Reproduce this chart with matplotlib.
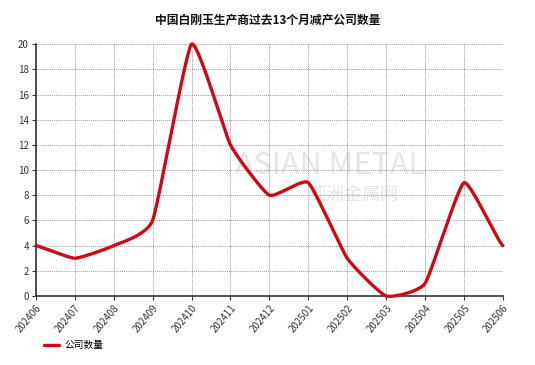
import numpy as np
import matplotlib
matplotlib.use("Agg")
import matplotlib.pyplot as plt

plt.rcParams['font.family'] = ['Noto Sans CJK SC', 'DejaVu Sans']

months = ['202406', '202407', '202408', '202409', '202410', '202411', '202412',
          '202501', '202502', '202503', '202504', '202505', '202506']
counts = [4, 3, 4, 6, 20, 12, 8, 9, 3, 0, 1, 9, 4]


def smooth(xs, ys, tension=0.45, n=30):
    # cardinal spline, only used to draw the line smoothly
    xs = np.asarray(xs, float)
    ys = np.asarray(ys, float)
    px = np.concatenate([[2 * xs[0] - xs[1]], xs, [2 * xs[-1] - xs[-2]]])
    py = np.concatenate([[ys[0]], ys, [ys[-1]]])
    out_x, out_y = [], []
    t = np.linspace(0, 1, n)
    h00 = 2 * t**3 - 3 * t**2 + 1
    h10 = t**3 - 2 * t**2 + t
    h01 = -2 * t**3 + 3 * t**2
    h11 = t**3 - t**2
    for i in range(1, len(px) - 2):
        for p, out in ((px, out_x), (py, out_y)):
            p0, p1, p2, p3 = p[i - 1], p[i], p[i + 1], p[i + 2]
            m1 = tension * (p2 - p0) / 2
            m2 = tension * (p3 - p1) / 2
            out.extend(h00 * p1 + h10 * m1 + h01 * p2 + h11 * m2)
    return np.array(out_x), np.array(out_y)


fig = plt.figure(figsize=(5.35, 3.65), dpi=100)
ax = fig.add_axes([0.067, 0.189, 0.873, 0.69])

x = np.arange(len(months))
sx, sy = smooth(x, counts)
line, = ax.plot(sx, sy, color='#cc0a14', lw=2.4, solid_capstyle='round',
                zorder=3, clip_on=False)

ax.set_xlim(0, len(months) - 1)
ax.set_ylim(0, 20)
ax.set_yticks(range(0, 21, 2))
ax.set_xticks(x)
ax.set_xticklabels(months, rotation=50, ha='right', rotation_mode='anchor')
ax.tick_params(labelsize=7, colors='#333333', length=3, width=0.8, pad=2)
ax.grid(True, color='#999999', ls=(0, (1, 1)), lw=0.7)
for s in ['top', 'right']:
    ax.spines[s].set_visible(False)
for s in ['left', 'bottom']:
    ax.spines[s].set_color('#333333')
    ax.spines[s].set_linewidth(1.2)

# watermark
ax.text(0.63, 0.52, 'ASIAN METAL', transform=ax.transAxes, fontsize=22,
        color='#aaaaaa', alpha=0.3, ha='center', va='center', zorder=1)
ax.text(0.68, 0.40, '亚洲金属网', transform=ax.transAxes, fontsize=13,
        color='#aaaaaa', alpha=0.3, ha='center', va='center', zorder=1)

fig.text(0.5, 0.945, '中国白刚玉生产商过去13个月减产公司数量', ha='center', va='center',
         fontsize=8.5, fontweight='bold', color='#111111')

fig.legend([line], ['公司数量'], loc='center left', bbox_to_anchor=(0.065, 0.055),
           frameon=False, fontsize=7, handlelength=1.6, handletextpad=0.6)

fig.savefig('out.png', dpi=100, facecolor='white')
